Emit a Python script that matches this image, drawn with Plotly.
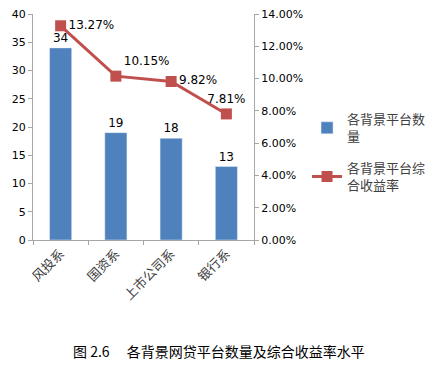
import plotly.graph_objects as go

categories = ["风投系", "国资系", "上市公司系", "银行系"]
counts = [34, 19, 18, 13]
rates = [0.1327, 0.1015, 0.0982, 0.0781]
count_labels = ["34", "19", "18", "13"]
rate_labels = ["13.27%", "10.15%", "9.82%", "7.81%"]
rate_positions = ["middle right", "top right", "middle right", "top center"]

FONT = "DejaVu Sans, Noto Sans CJK SC"
CJK = "Noto Sans CJK SC"

fig = go.Figure()
fig.add_trace(go.Bar(
    x=categories, y=counts, name="各背景平台数<br>量", legendgroup="a",
    marker=dict(color="#4F81BD"),
    text=count_labels, textposition="outside",
    textfont=dict(family=FONT, size=12, color="#000000"),
    cliponaxis=False,
))
fig.add_trace(go.Scatter(
    x=categories, y=rates, name="各背景平台综<br>合收益率", yaxis="y2", legendgroup="b",
    mode="lines+markers+text",
    line=dict(color="#C0504D", width=3),
    marker=dict(symbol="square", size=11, color="#C0504D"),
    text=rate_labels, textposition=rate_positions,
    textfont=dict(family=FONT, size=12, color="#000000"),
    cliponaxis=False,
))

fig.update_layout(
    width=434, height=365,
    margin=dict(l=33, r=180, t=14, b=125, autoexpand=False),
    paper_bgcolor="white", plot_bgcolor="white",
    bargap=0.6,
    showlegend=True,
    legend=dict(x=1.24, y=0.6, xanchor="left", yanchor="top",
                font=dict(family=CJK, size=13, color="#404040"),
                tracegroupgap=12, itemwidth=30),
    xaxis=dict(showline=True, linecolor="#A6A6A6", linewidth=1, automargin=False,
               ticks="outside", tickson="boundaries", ticklen=4, tickcolor="#A6A6A6",
               tickangle=-45, tickfont=dict(family=CJK, size=13, color="#404040")),
    yaxis=dict(range=[0, 40], dtick=5, showgrid=False, zeroline=False, automargin=False,
               showline=True, linecolor="#A6A6A6", linewidth=1,
               ticks="outside", ticklen=4, tickcolor="#A6A6A6",
               tickfont=dict(family=FONT, size=11, color="#000000")),
    yaxis2=dict(range=[0, 0.14], dtick=0.02, tickformat=".2%", overlaying="y", side="right",
                showgrid=False, zeroline=False, automargin=False,
                showline=True, linecolor="#A6A6A6", linewidth=1,
                ticks="outside", ticklen=4, tickcolor="#A6A6A6",
                tickfont=dict(family=FONT, size=11, color="#000000")),
    annotations=[dict(text="图 2.6　 各背景网贷平台数量及综合收益率水平", xref="paper", yref="paper",
                      x=0.84, y=-0.49, xanchor="center", yanchor="middle", showarrow=False,
                      font=dict(family=CJK, size=14, color="#000000"))],
)

fig.write_html("out.html", config={"displayModeBar": False},
               post_script="document.body.style.margin='0';document.body.style.padding='0';")
